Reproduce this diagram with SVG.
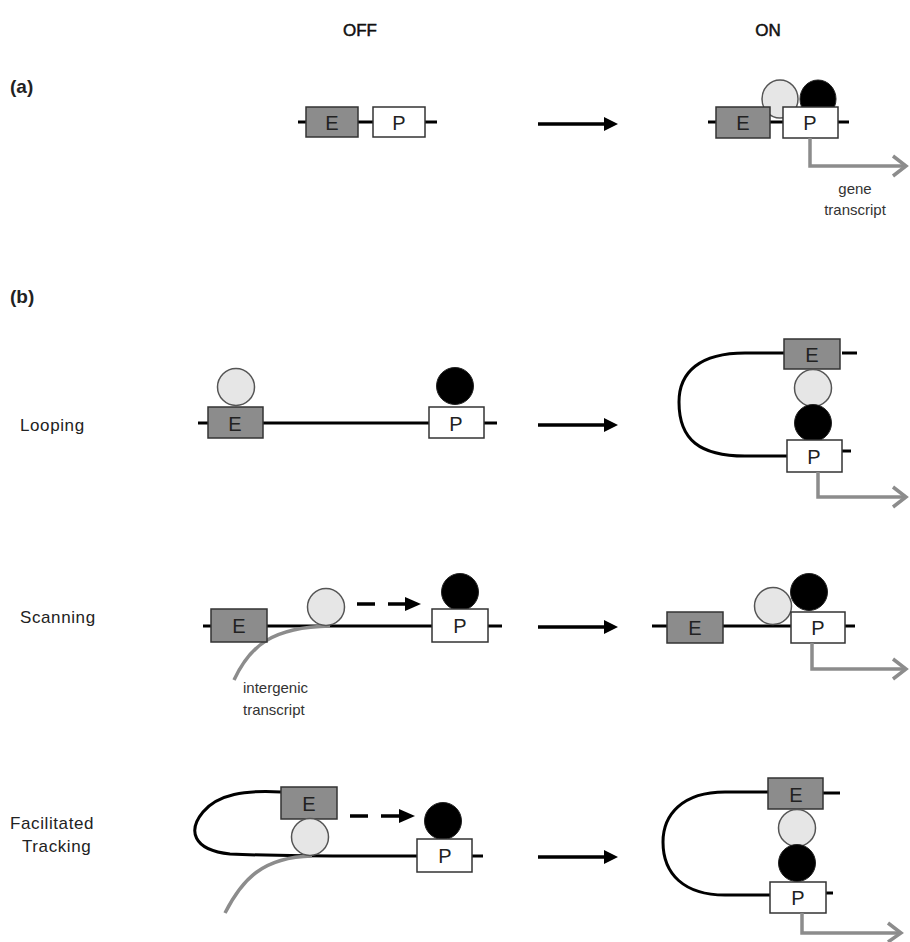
<svg xmlns="http://www.w3.org/2000/svg" width="910" height="942" viewBox="0 0 910 942">
<style>
.t{font-family:"Liberation Sans",Arial,sans-serif;fill:#222}
.lbl{font-size:17px;letter-spacing:0.6px}
.hd{font-size:17px;text-anchor:middle;fill:#111;stroke:#111;stroke-width:0.5}
.box{font-size:20px;text-anchor:middle;fill:#222}
.sm{font-size:15px;fill:#333}
.dna{fill:none;stroke:#000;stroke-width:3}
.E{fill:#8c8c8c;stroke:#333;stroke-width:1.5}
.P{fill:#fff;stroke:#333;stroke-width:1.5}
.lc{fill:#e6e6e6;stroke:#555;stroke-width:1.5}
.bc{fill:#000;stroke:#222;stroke-width:1}
.tx{fill:none;stroke:#8c8c8c;stroke-width:3.5}
.arr{fill:none;stroke:#000;stroke-width:3.5}
.dash{fill:none;stroke:#000;stroke-width:3.5;stroke-dasharray:18 13}
</style>
<defs>
<path id="head" d="M-14,-7 L0,0 L-14,7 z" fill="#000"/>
</defs>
<rect width="910" height="942" fill="#fff"/>

<text class="t hd" x="360" y="36">OFF</text>
<text class="t hd" x="768" y="36">ON</text>
<text class="t" x="10" y="93" font-size="19" font-weight="bold">(a)</text>
<text class="t" x="10" y="303" font-size="19" font-weight="bold">(b)</text>

<text class="t lbl" x="20" y="431">Looping</text>
<text class="t lbl" x="20" y="623">Scanning</text>
<text class="t lbl" x="10" y="829">Facilitated</text>
<text class="t lbl" x="22" y="852">Tracking</text>

<g id="connectors">
<line class="arr" x1="538" y1="124" x2="606" y2="124"/>
<use href="#head" x="618" y="124"/>
<line class="arr" x1="538" y1="425" x2="606" y2="425"/>
<use href="#head" x="618" y="425"/>
<line class="arr" x1="538" y1="627" x2="606" y2="627"/>
<use href="#head" x="618" y="627"/>
<line class="arr" x1="538" y1="857" x2="606" y2="857"/>
<use href="#head" x="618" y="857"/>
<line class="dash" x1="357" y1="604" x2="406" y2="604"/>
<path d="M405,597 L421,604 L405,611 z" fill="#000"/>
<line class="dash" x1="350" y1="816" x2="399" y2="816"/>
<path d="M399,809 L415,816 L399,823 z" fill="#000"/>
</g>

<g id="a-off">
<line class="dna" x1="298" y1="122" x2="437" y2="122"/>
<rect class="E" x="306" y="107" width="52" height="30"/>
<text class="t box" x="332" y="130">E</text>
<rect class="P" x="373" y="107" width="52" height="30"/>
<text class="t box" x="399" y="130">P</text>
</g>

<g id="a-on">
<line class="dna" x1="708" y1="122" x2="849" y2="122"/>
<ellipse class="lc" cx="780" cy="99" rx="18" ry="19"/>
<ellipse class="bc" cx="818" cy="99" rx="18" ry="19"/>
<rect class="E" x="716" y="107" width="54" height="31"/>
<text class="t box" x="743" y="130">E</text>
<rect class="P" x="783" y="107" width="55" height="31"/>
<text class="t box" x="810" y="130">P</text>
<polyline class="tx" points="810,138 810,166 905,166"/>
<polyline class="tx" points="893,156 906,166 893,176"/>
<text class="t sm" x="855" y="194" text-anchor="middle">gene</text>
<text class="t sm" x="855" y="215" text-anchor="middle">transcript</text>
</g>

<g id="loop-off">
<line class="dna" x1="198" y1="423" x2="497" y2="423"/>
<circle class="lc" cx="236" cy="387" r="18.5"/>
<rect class="E" x="208" y="407" width="55" height="31"/>
<text class="t box" x="235" y="431">E</text>
<circle class="bc" cx="455" cy="386" r="18.5"/>
<rect class="P" x="429" y="407" width="55" height="31"/>
<text class="t box" x="456" y="431">P</text>
</g>

<g id="loop-on">
<path class="dna" d="M784,353 L745,353 C700,353 679,372 679,402 C679,440 700,456 745,456 L787,456"/>
<line class="dna" x1="842" y1="353" x2="857" y2="353"/>
<line class="dna" x1="842" y1="451" x2="851" y2="451"/>
<rect class="E" x="784" y="339" width="56" height="30"/>
<text class="t box" x="812" y="362">E</text>
<circle class="lc" cx="813" cy="388" r="18.5"/>
<circle class="bc" cx="813" cy="423" r="18.5"/>
<rect class="P" x="787" y="440" width="55" height="32"/>
<text class="t box" x="814" y="464">P</text>
<polyline class="tx" points="818,472 818,497 905,497"/>
<polyline class="tx" points="893,487 906,497 893,507"/>
</g>

<g id="scan-off">
<line class="dna" x1="203" y1="626" x2="502" y2="626"/>
<path class="tx" d="M234,680 C250,646 272,627 330,626"/>
<rect class="E" x="211" y="609" width="56" height="33"/>
<text class="t box" x="239" y="633">E</text>
<circle class="lc" cx="326" cy="607" r="18.5"/>
<circle class="bc" cx="460" cy="592" r="18.5"/>
<rect class="P" x="432" y="609" width="56" height="33"/>
<text class="t box" x="460" y="633">P</text>
<text class="t sm" x="243" y="693">intergenic</text>
<text class="t sm" x="243" y="715">transcript</text>
</g>

<g id="scan-on">
<line class="dna" x1="652" y1="626" x2="855" y2="626"/>
<rect class="E" x="667" y="612" width="56" height="31"/>
<text class="t box" x="695" y="635">E</text>
<circle class="lc" cx="773" cy="606" r="18.5"/>
<circle class="bc" cx="809" cy="592" r="18.5"/>
<rect class="P" x="791" y="612" width="54" height="31"/>
<text class="t box" x="818" y="635">P</text>
<polyline class="tx" points="812,643 812,669 905,669"/>
<polyline class="tx" points="893,659 906,669 893,679"/>
</g>

<g id="fac-off">
<path class="dna" d="M281,792 C245,790 218,794 203,812 C188,830 192,850 230,854 C300,857 380,856 417,856"/>
<line class="dna" x1="472" y1="856" x2="483" y2="856"/>
<path class="tx" d="M225,913 C242,880 262,857 312,856"/>
<rect class="E" x="281" y="787" width="56" height="32"/>
<text class="t box" x="309" y="811">E</text>
<circle class="lc" cx="310" cy="837" r="18.5"/>
<circle class="bc" cx="443" cy="821" r="18.5"/>
<rect class="P" x="417" y="839" width="55" height="33"/>
<text class="t box" x="445" y="863">P</text>
</g>

<g id="fac-on">
<path class="dna" d="M768,792 L725,792 C682,792 663,815 663,842 C663,874 684,895 725,895 L770,895"/>
<line class="dna" x1="823" y1="793" x2="840" y2="793"/>
<line class="dna" x1="826" y1="893" x2="833" y2="893"/>
<rect class="E" x="768" y="778" width="55" height="31"/>
<text class="t box" x="796" y="802">E</text>
<circle class="lc" cx="797" cy="828" r="18.5"/>
<circle class="bc" cx="797" cy="863" r="18.5"/>
<rect class="P" x="770" y="882" width="56" height="31"/>
<text class="t box" x="798" y="905">P</text>
<polyline class="tx" points="802,913 802,933 900,933"/>
<polyline class="tx" points="888,923 901,933 888,942"/>
</g>
</svg>
